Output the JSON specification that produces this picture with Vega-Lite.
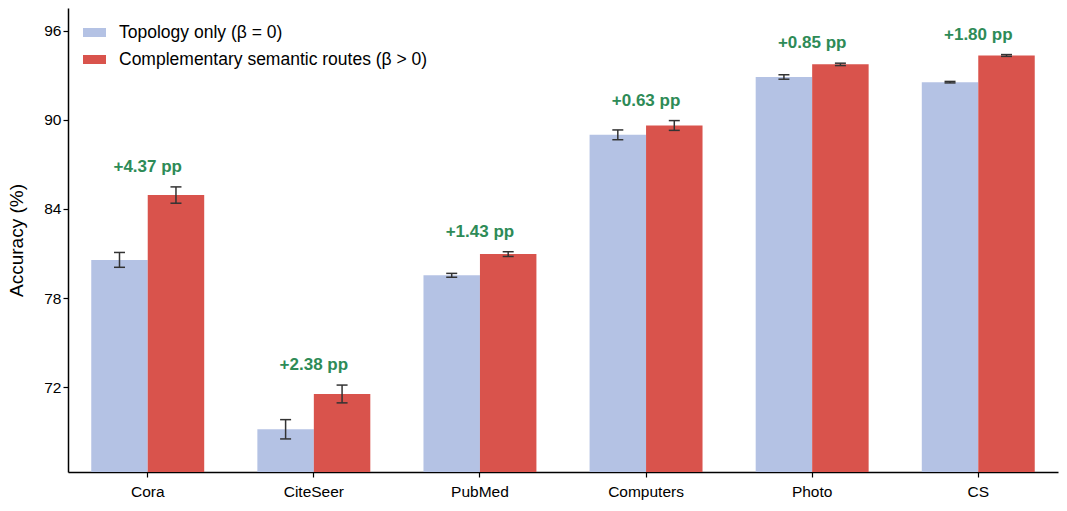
{
  "$schema": "https://vega.github.io/schema/vega-lite/v6.json",
  "autosize": {"type": "none"},
  "width": 990,
  "height": 464,
  "padding": {"left": 68, "top": 8, "right": 9, "bottom": 39},
  "config": {
    "font": "Liberation Sans",
    "view": {"stroke": null},
    "axis": {
      "domainColor": "black", "domainWidth": 1.5, "tickColor": "black", "tickWidth": 1.2,
      "tickSize": 5, "labelColor": "black", "labelFontSize": 15.5, "titleColor": "black",
      "grid": false
    }
  },
  "datasets": {
    "acc": [
      {"dataset": "Cora", "method": "Topology only (β = 0)", "acc": 80.57, "lo": 80.07, "hi": 81.07},
      {"dataset": "Cora", "method": "Complementary semantic routes (β > 0)", "acc": 84.94, "lo": 84.39, "hi": 85.49},
      {"dataset": "CiteSeer", "method": "Topology only (β = 0)", "acc": 69.15, "lo": 68.5, "hi": 69.8},
      {"dataset": "CiteSeer", "method": "Complementary semantic routes (β > 0)", "acc": 71.53, "lo": 70.93, "hi": 72.13},
      {"dataset": "PubMed", "method": "Topology only (β = 0)", "acc": 79.53, "lo": 79.4, "hi": 79.66},
      {"dataset": "PubMed", "method": "Complementary semantic routes (β > 0)", "acc": 80.96, "lo": 80.8, "hi": 81.12},
      {"dataset": "Computers", "method": "Topology only (β = 0)", "acc": 89.0, "lo": 88.67, "hi": 89.33},
      {"dataset": "Computers", "method": "Complementary semantic routes (β > 0)", "acc": 89.63, "lo": 89.3, "hi": 89.96},
      {"dataset": "Photo", "method": "Topology only (β = 0)", "acc": 92.9, "lo": 92.75, "hi": 93.05},
      {"dataset": "Photo", "method": "Complementary semantic routes (β > 0)", "acc": 93.75, "lo": 93.67, "hi": 93.83},
      {"dataset": "CS", "method": "Topology only (β = 0)", "acc": 92.55, "lo": 92.5, "hi": 92.6},
      {"dataset": "CS", "method": "Complementary semantic routes (β > 0)", "acc": 94.35, "lo": 94.29, "hi": 94.41}
    ],
    "gain": [
      {"dataset": "Cora", "label": "+4.37 pp", "top": 85.49},
      {"dataset": "CiteSeer", "label": "+2.38 pp", "top": 72.13},
      {"dataset": "PubMed", "label": "+1.43 pp", "top": 81.12},
      {"dataset": "Computers", "label": "+0.63 pp", "top": 89.96},
      {"dataset": "Photo", "label": "+0.85 pp", "top": 93.83},
      {"dataset": "CS", "label": "+1.80 pp", "top": 94.41}
    ]
  },
  "encoding": {
    "x": {
      "field": "dataset", "type": "nominal",
      "sort": ["Cora", "CiteSeer", "PubMed", "Computers", "Photo", "CS"],
      "scale": {"paddingInner": 0.32, "paddingOuter": 0.14},
      "axis": {"title": null, "labelAngle": 0, "labelPadding": 7, "labelFontSize": 15.5, "domainWidth": 1.5}
    }
  },
  "layer": [
    {
      "data": {"name": "acc"},
      "mark": {"type": "bar", "clip": true},
      "encoding": {
        "xOffset": {"field": "method", "type": "nominal", "sort": ["Topology only (β = 0)", "Complementary semantic routes (β > 0)"]},
        "y": {
          "field": "acc", "type": "quantitative",
          "scale": {"domain": [66.27, 97.55], "zero": false, "nice": false},
          "axis": {"values": [72, 78, 84, 90, 96], "labelFontSize": 15.5, "title": "Accuracy (%)", "titleFontSize": 19, "titleFontWeight": "normal", "titlePadding": 17}
        },
        "color": {
          "field": "method", "type": "nominal",
          "sort": ["Topology only (β = 0)", "Complementary semantic routes (β > 0)"],
          "scale": {"range": ["#b4c2e4", "#d9534c"]},
          "legend": {
            "title": null, "orient": "none", "legendX": 15, "legendY": 13,
            "labelFontSize": 17.5, "labelColor": "black", "labelOffset": 13, "labelLimit": 0,
            "symbolType": "M-1,-0.39H1V0.39H-1Z", "symbolSize": 529, "symbolStrokeWidth": 0,
            "symbolOpacity": 1, "rowPadding": 7
          }
        }
      }
    },
    {
      "data": {"name": "acc"},
      "mark": {"type": "rule", "color": "#333333", "strokeWidth": 1.5},
      "encoding": {
        "xOffset": {"field": "method", "type": "nominal", "sort": ["Topology only (β = 0)", "Complementary semantic routes (β > 0)"]},
        "y": {"field": "lo", "type": "quantitative"},
        "y2": {"field": "hi"}
      }
    },
    {
      "data": {"name": "acc"},
      "mark": {"type": "tick", "orient": "horizontal", "color": "#333333", "size": 11, "thickness": 1.5, "opacity": 1},
      "encoding": {
        "xOffset": {"field": "method", "type": "nominal", "sort": ["Topology only (β = 0)", "Complementary semantic routes (β > 0)"]},
        "y": {"field": "lo", "type": "quantitative"}
      }
    },
    {
      "data": {"name": "acc"},
      "mark": {"type": "tick", "orient": "horizontal", "color": "#333333", "size": 11, "thickness": 1.5, "opacity": 1},
      "encoding": {
        "xOffset": {"field": "method", "type": "nominal", "sort": ["Topology only (β = 0)", "Complementary semantic routes (β > 0)"]},
        "y": {"field": "hi", "type": "quantitative"}
      }
    },
    {
      "data": {"name": "gain"},
      "mark": {"type": "text", "dy": -20, "baseline": "middle", "fontSize": 17, "fontWeight": "bold", "color": "#2e8b57"},
      "encoding": {
        "y": {"field": "top", "type": "quantitative"},
        "text": {"field": "label"}
      }
    }
  ]
}
